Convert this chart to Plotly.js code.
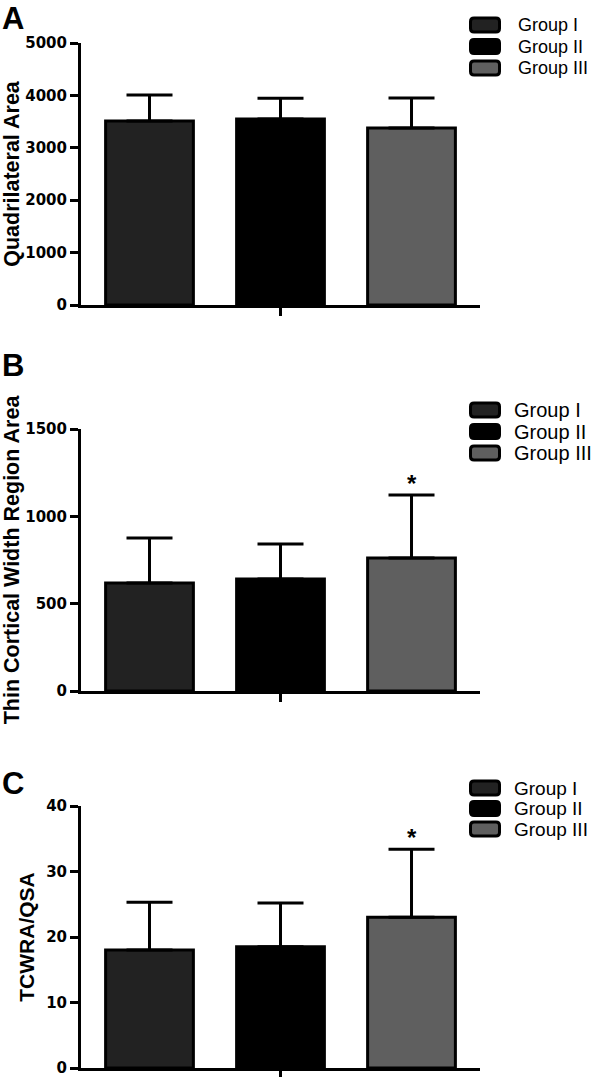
<!DOCTYPE html>
<html>
<head>
<meta charset="utf-8">
<script src="https://cdn.plot.ly/plotly-3.0.1.min.js"></script>
<style>
  html, body { margin: 0; padding: 0; background: #fff; }
  #chart { width: 597px; height: 1077px; }
</style>
</head>
<body>
<div id="chart"></div>
<script>
// ---- data ----
var groups = ["Group I", "Group II", "Group III"];
var category = ["All"];
var quadMean = [3510, 3550, 3380];
var quadErr = [500, 395, 570];
var thinMean = [618, 641, 761];
var thinErr = [258, 200, 361];
var ratioMean = [18.0, 18.5, 23.0];
var ratioErr = [7.3, 6.7, 10.4];
var thinSig = ["", "", "*"];
var ratioSig = ["", "", "*"];
var panelLetters = ["A", "B", "C"];
var yTitles = ["Quadrilateral Area", "Thin Cortical Width Region Area", "TCWRA/QSA"];
var yRanges = [[0, 5000], [0, 1500], [0, 40]];
var yDticks = [1000, 500, 10];

// ---- style ----
var fillColors = ["#222222", "#000000", "#5f5f5f"];
var FONT = "Liberation Sans, Arial, Helvetica, sans-serif";
var TICKFONT = "DejaVu Sans, Verdana, sans-serif";
var H = 1077, W = 597;
var bargap = 0.015, bargroupgap = 0.33;
var slot = (1 - bargap) / groups.length;

var panels = [
  {mean: quadMean, err: quadErr, sig: null},
  {mean: thinMean, err: thinErr, sig: thinSig},
  {mean: ratioMean, err: ratioErr, sig: ratioSig}
];
var boxes = [[43, 305], [429, 691], [806, 1068]];   // plot area top/bottom (px)
var xDom = [81 / W, 480 / W];
var letterTops = [-1, 346, 764];
var titleSizes = [21.5, 21.5, 21];
var legendRows = [[25, 46.5, 68], [410, 431.5, 453], [788, 808.5, 829]];
var legendTextX = [517, 513, 513];
var legendSizes = [18, 20, 19];
var legendBoxX = 485;

function roundRect(w, h, r) {
  var x = w / 2, y = h / 2;
  return "M" + (-x + r) + "," + (-y) + " L" + (x - r) + "," + (-y) +
    " Q" + x + "," + (-y) + " " + x + "," + (-y + r) +
    " L" + x + "," + (y - r) + " Q" + x + "," + y + " " + (x - r) + "," + y +
    " L" + (-x + r) + "," + y + " Q" + (-x) + "," + y + " " + (-x) + "," + (y - r) +
    " L" + (-x) + "," + (-y + r) + " Q" + (-x) + "," + (-y) + " " + (-x + r) + "," + (-y) + " Z";
}

var traces = [];
var annotations = [];
var shapes = [];
var layout = {
  width: W, height: H,
  margin: {l: 0, r: 0, t: 0, b: 0},
  paper_bgcolor: "#ffffff", plot_bgcolor: "#ffffff",
  barmode: "group", bargap: bargap, bargroupgap: bargroupgap,
  showlegend: false,
  font: {family: FONT, color: "#000"}
};

panels.forEach(function (p, k) {
  var xa = k === 0 ? "x" : "x" + (k + 1);
  var ya = k === 0 ? "y" : "y" + (k + 1);
  groups.forEach(function (g, i) {
    traces.push({
      type: "bar",
      name: g,
      x: category,
      y: [p.mean[i]],
      xaxis: xa, yaxis: ya,
      marker: {color: fillColors[i], line: {color: "#000", width: 3}},
      error_y: {type: "data", symmetric: false, array: [p.err[i]], arrayminus: [0],
                color: "#000", thickness: 3, width: 23},
      cliponaxis: false,
      hoverinfo: "skip"
    });
    if (p.sig && p.sig[i]) {
      annotations.push({
        xref: xa, yref: ya,
        x: (i - (groups.length - 1) / 2) * slot,
        y: p.mean[i] + p.err[i],
        text: p.sig[i], showarrow: false,
        yanchor: "bottom", xanchor: "center", yshift: -4,
        font: {family: FONT, size: 24, weight: "bold", color: "#000"}
      });
    }
    // legend entry (box + label)
    var rowY = 1 - legendRows[k][i] / H;
    shapes.push({
      type: "path", xref: "paper", yref: "paper",
      xsizemode: "pixel", ysizemode: "pixel",
      xanchor: legendBoxX / W, yanchor: rowY,
      path: roundRect(29, 14, 3.5),
      fillcolor: fillColors[i], line: {color: "#000", width: 3}
    });
    annotations.push({
      xref: "paper", yref: "paper", x: legendTextX[k] / W, y: rowY,
      xanchor: "left", yanchor: "middle", showarrow: false, borderpad: 0,
      text: g, font: {family: FONT, size: legendSizes[k], color: "#000"}
    });
  });
  var b = boxes[k];
  layout["xaxis" + (k === 0 ? "" : k + 1)] = {
    domain: xDom, anchor: ya, type: "category",
    showline: true, linecolor: "#000", linewidth: 3,
    ticks: "outside", ticklen: 8, tickwidth: 2.5, tickcolor: "#000",
    showticklabels: false, showgrid: false, zeroline: false, fixedrange: true
  };
  layout["yaxis" + (k === 0 ? "" : k + 1)] = {
    domain: [1 - b[1] / H, 1 - b[0] / H], anchor: xa,
    range: yRanges[k], dtick: yDticks[k], tick0: 0,
    showline: true, linecolor: "#000", linewidth: 3,
    ticks: "outside", ticklen: 8, tickwidth: 3, tickcolor: "#000",
    showgrid: false, zeroline: false, automargin: false,
    ticklabeloverflow: "allow",
    tickfont: {family: TICKFONT, size: 15, weight: "bold", color: "#000"},
    title: {text: yTitles[k], standoff: 6,
            font: {family: FONT, size: titleSizes[k], weight: "bold", color: "#000"}}
  };
  annotations.push({
    xref: "paper", yref: "paper", x: 0, y: 1 - letterTops[k] / H,
    xanchor: "left", yanchor: "top", showarrow: false,
    text: panelLetters[k],
    font: {family: FONT, size: 31, weight: "bold", color: "#000"}
  });
});
layout.annotations = annotations;
layout.shapes = shapes;

Plotly.newPlot("chart", traces, layout, {displayModeBar: false, staticPlot: true});
</script>
</body>
</html>
